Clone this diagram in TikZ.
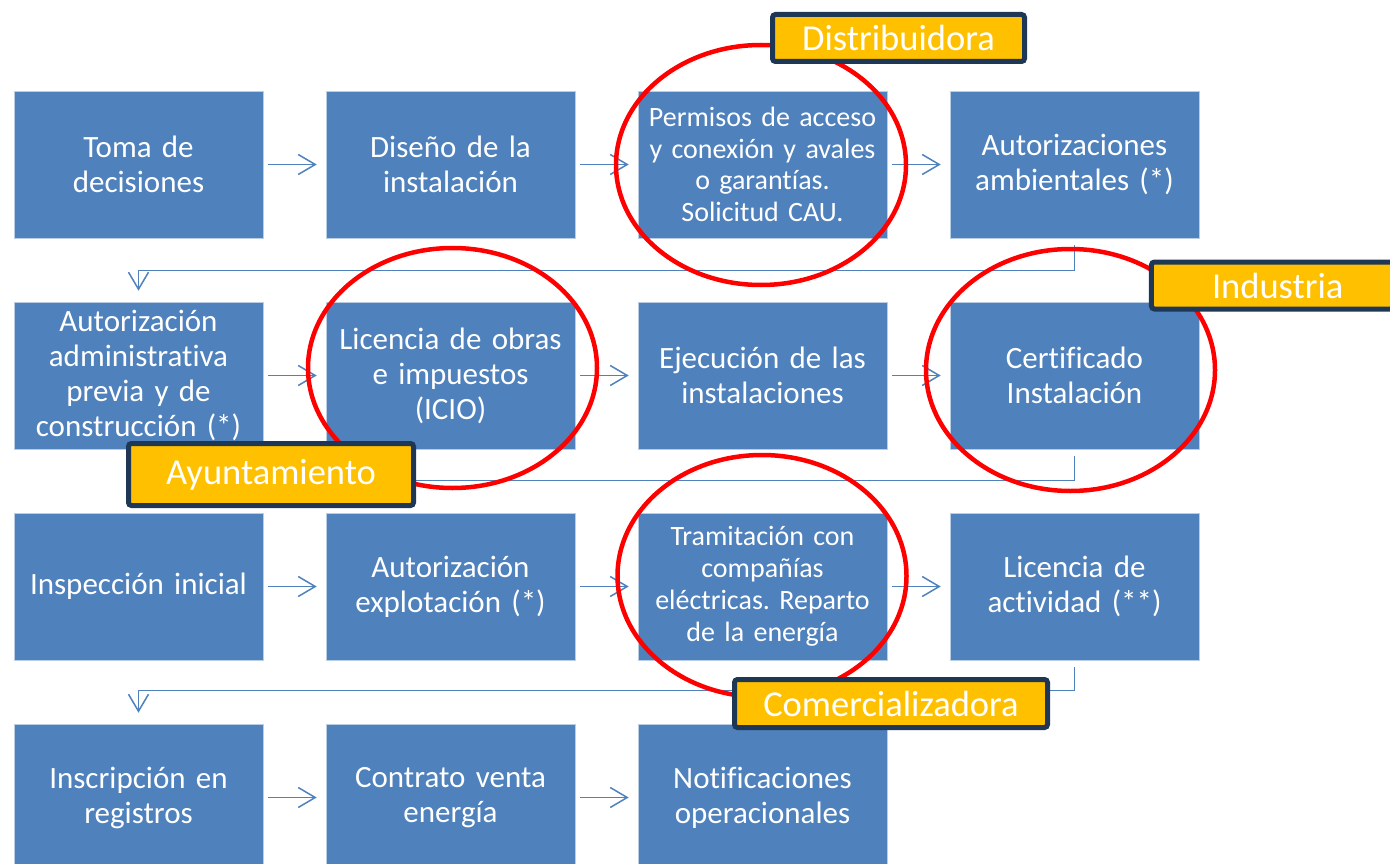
\documentclass[tikz,border=0pt]{standalone}
\usepackage{fontspec}
\setmainfont{Carlito}[Ligatures={NoCommon,NoDiscretionary}]
\usetikzlibrary{arrows.meta}
\definecolor{boxblue}{RGB}{79,129,189}
\definecolor{boxedge}{RGB}{185,205,229}
\definecolor{labfill}{RGB}{255,192,0}
\definecolor{labedge}{RGB}{30,55,85}
\definecolor{ringred}{RGB}{255,0,0}
\tikzset{
  stepbox/.style={fill=boxblue, draw=boxedge, line width=0.6pt, minimum width=249pt, minimum height=147pt,
    inner sep=0pt, text width=245pt, align=center, text=white, font=\fontsize{31}{35}\selectfont},
  smalltext/.style={font=\fontsize{28}{31.5}\selectfont},
  arr/.style={draw=boxblue, line width=1.5pt, -{Straight Barb[length=17pt,width=20pt,line width=1.5pt]}},
  ring/.style={draw=ringred, line width=4.5pt},
  tag/.style={fill=labfill, draw=labedge, line width=5pt, rounded corners=3pt, text=white,
    inner sep=0pt, font=\fontsize{36.5}{40}\selectfont}
}
\frenchspacing
\begin{document}
\begin{tikzpicture}[x=1pt,y=-1pt]
\useasboundingbox[fill=white] (0,0) rectangle (1390,864);
% row 1
\node[stepbox] (b1) at (138.5,164.5) {Toma de\\decisiones};
\node[stepbox] (b2) at (450.5,164.5) {Diseño de la\\instalación};
\node[stepbox,smalltext] (b3) at (762.5,164.5) {Permisos de acceso\\y conexión y avales\\o garantías.\\Solicitud CAU.};
\node[stepbox] (b4) at (1074.5,164.5) {Autorizaciones\\ambientales (*)};
% row 2
\node[stepbox] (b5) at (138.5,375.5) {Autorización\\administrativa\\previa y de\\construcción (*)};
\node[stepbox] (b6) at (450.5,375.5) {Licencia de obras\\e impuestos\\(ICIO)};
\node[stepbox] (b7) at (762.5,375.5) {Ejecución de las\\instalaciones};
\node[stepbox] (b8) at (1074.5,375.5) {Certificado\\Instalación};
% row 3
\node[stepbox] (b9) at (138.5,586.5) {Inspección inicial};
\node[stepbox] (b10) at (450.5,586.5) {Autorización\\explotación (*)};
\node[stepbox,font=\fontsize{28}{32}\selectfont] (b11) at (762.5,586.5) {Tramitación con\\compañías\\eléctricas. Reparto\\de la energía};
\node[stepbox] (b12) at (1074.5,586.5) {Licencia de\\actividad (**)};
% row 4
\node[stepbox] (b13) at (138.5,797.5) {Inscripción en\\registros};
\node[stepbox] (b14) at (450.5,797.5) {Contrato venta\\energía};
\node[stepbox] (b15) at (762.5,797.5) {Notificaciones\\operacionales};
% horizontal connectors
\foreach \a/\b in {b1/b2,b2/b3,b3/b4,b5/b6,b6/b7,b7/b8,b9/b10,b10/b11,b11/b12,b13/b14,b14/b15}
  \draw[arr, shorten <=5pt, shorten >=9pt] (\a) -- (\b);
% row-to-row connectors
\draw[arr] ([yshift=-7pt]b4.south) -- ([yshift=-32pt]b4.south) -| ([yshift=11pt]b5.north);
\draw[arr] ([yshift=-7pt]b8.south) -- ([yshift=-31pt]b8.south) -| ([yshift=11pt]b9.north);
\draw[arr] ([yshift=-7pt]b12.south) -- ([yshift=-30pt]b12.south) -| ([yshift=11pt]b13.north);
% rings
\draw[ring] (761,165) ellipse [x radius=145pt, y radius=120pt];
\draw[ring] (452.5,368) ellipse [x radius=144.5pt, y radius=120pt];
\draw[ring] (1070.5,370) ellipse [x radius=144.5pt, y radius=121pt];
\draw[ring] (762,576) ellipse [x radius=144.5pt, y radius=121pt];
% labels
\node[tag, minimum width=252pt, minimum height=47pt] (t1) at (898.5,38) {Distribuidora};
\node[tag, minimum width=252.5pt, minimum height=47pt] (t2) at (1277.7,285.5) {Industria};
\node[tag, minimum width=285pt, minimum height=62pt] (t3) at (271,474.5) {\raisebox{-3pt}{Ayuntamiento}};
\node[tag, minimum width=313pt, minimum height=48pt] (t4) at (891,703.5) {Comercializadora};
\end{tikzpicture}
\end{document}
